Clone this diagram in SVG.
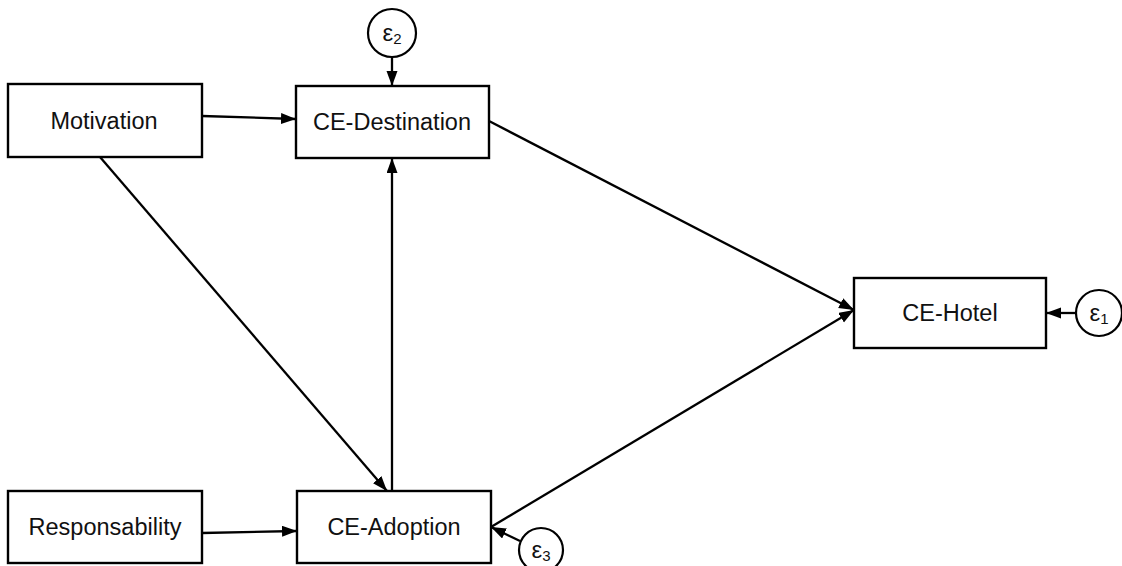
<svg xmlns="http://www.w3.org/2000/svg" width="1122" height="566" viewBox="0 0 1122 566">
<style>
.box{fill:#fff;stroke:#000;stroke-width:2.4}
.err{fill:#fff;stroke:#000;stroke-width:2.2}
.lbl{font-family:"Liberation Sans",Arial,sans-serif;font-size:23.5px;fill:#111;text-anchor:middle}
.eps{font-family:"Liberation Sans",Arial,sans-serif;font-size:24px;fill:#111;text-anchor:middle}
.sub{font-size:15px}
.edge{stroke:#000;stroke-width:2.3;fill:none;marker-end:url(#ah)}
</style>
<defs>
<marker id="ah" markerUnits="userSpaceOnUse" markerWidth="16" markerHeight="12" refX="15" refY="5.5" orient="auto">
<path d="M0,0 L15,5.5 L0,11 z" fill="#000"/>
</marker>
</defs>
<rect width="1122" height="566" fill="#fff"/>
<g id="connectors">
<line class="edge" x1="202" y1="116" x2="296" y2="119"/>
<line class="edge" x1="100" y1="157" x2="387" y2="491"/>
<line class="edge" x1="392" y1="492" x2="392" y2="158"/>
<line class="edge" x1="489" y1="121" x2="854" y2="310"/>
<line class="edge" x1="491" y1="527" x2="854" y2="310"/>
<line class="edge" x1="202" y1="533" x2="297" y2="531"/>
<line class="edge" x1="392" y1="57" x2="392" y2="86"/>
<line class="edge" x1="1076" y1="313" x2="1046" y2="313"/>
<line class="edge" x1="520" y1="541" x2="491" y2="527"/>
</g>
<g id="motivation">
<rect class="box" x="8" y="84" width="194" height="73"/>
<text class="lbl" x="104" y="129">Motivation</text>
</g>
<g id="ce-destination">
<rect class="box" x="296" y="86" width="193" height="72"/>
<text class="lbl" x="392" y="130">CE-Destination</text>
</g>
<g id="ce-hotel">
<rect class="box" x="854" y="278" width="192" height="70"/>
<text class="lbl" x="950" y="321">CE-Hotel</text>
</g>
<g id="ce-adoption">
<rect class="box" x="297" y="491" width="194" height="72"/>
<text class="lbl" x="394" y="535">CE-Adoption</text>
</g>
<g id="responsability">
<rect class="box" x="8" y="491" width="194" height="72"/>
<text class="lbl" x="105" y="535">Responsability</text>
</g>
<g id="e2">
<circle class="err" cx="392" cy="33" r="24"/>
<text class="eps" x="392" y="41">ε<tspan class="sub" dy="3">2</tspan></text>
</g>
<g id="e1">
<circle class="err" cx="1099" cy="313" r="23"/>
<text class="eps" x="1099" y="321">ε<tspan class="sub" dy="3">1</tspan></text>
</g>
<g id="e3">
<circle class="err" cx="541" cy="550" r="22"/>
<text class="eps" x="541" y="558">ε<tspan class="sub" dy="3">3</tspan></text>
</g>
</svg>
